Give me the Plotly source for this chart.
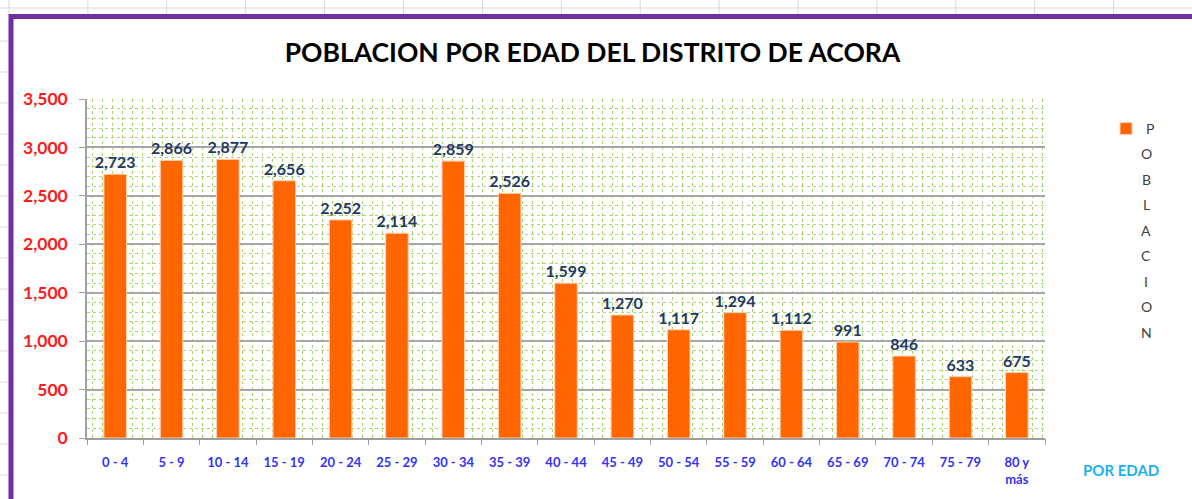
import plotly.graph_objects as go

categories = ["0 - 4", "5 - 9", "10 - 14", "15 - 19", "20 - 24", "25 - 29", "30 - 34",
              "35 - 39", "40 - 44", "45 - 49", "50 - 54", "55 - 59", "60 - 64",
              "65 - 69", "70 - 74", "75 - 79", "80 y<br>más"]
poblacion = [2723, 2866, 2877, 2656, 2252, 2114, 2859, 2526, 1599, 1270, 1117,
             1294, 1112, 991, 846, 633, 675]
y_ticks = [0, 500, 1000, 1500, 2000, 2500, 3000, 3500]
title_text = "POBLACION POR EDAD DEL DISTRITO DE ACORA"
series_name = "POBLACION"
x_title = "POR EDAD"

FONT = "Lato"
W, H = 1192, 499
L, R, T, B = 87, 1045, 99, 438


def px(xp):
    return (xp - L) / (R - L)


def py(yp):
    return (B - yp) / (B - T)


n = len(categories)
xs = list(range(n))

fig = go.Figure()
fig.add_trace(go.Bar(
    x=xs, y=poblacion, width=0.4,
    marker=dict(color="#ff6600", line=dict(color="#ffd0b0", width=1)),
    text=[f"{v:,}" for v in poblacion], textposition="outside",
    constraintext="none",
    textfont=dict(family=FONT, size=16, color="#1f3864", weight="bold"),
    cliponaxis=False, name="P", showlegend=True,
))
fig.add_trace(go.Scatter(x=[-0.5, n - 0.5], y=[0, 0], xaxis="x2", mode="markers",
                         marker=dict(opacity=0), showlegend=False, hoverinfo="skip"))

fig.update_layout(
    width=W, height=H,
    margin=dict(l=L, r=W - R, t=T, b=H - B, pad=0),
    paper_bgcolor="white", plot_bgcolor="white",
    title=dict(text=f"<b>{title_text}</b>", x=(285 + 900) / 2 / W, xanchor="center",
               y=1 - 53 / H, yanchor="middle",
               font=dict(family=FONT, size=26.5, color="black")),
    xaxis=dict(
        range=[-0.5, n - 0.5], tickmode="array", tickvals=xs, ticktext=categories,
        ticks="", showgrid=False, zeroline=False,
        showline=True, linecolor="#a0a0a0", linewidth=1.5,
        tickfont=dict(family=FONT, size=13, color="#3333f5", weight="bold"),
        ticklabelstandoff=12,
        minor=dict(tick0=-0.5 + 5 / 56.35, dtick=10 / 56.35, showgrid=True,
                   gridcolor="#a9d86e", griddash="dot", gridwidth=1, ticks=""),
    ),
    xaxis2=dict(overlaying="x", range=[-0.5, n - 0.5], tickmode="array",
                tickvals=[i - 0.5 for i in range(n + 1)], ticks="outside", ticklen=6,
                tickcolor="#a0a0a0", showticklabels=False, showgrid=False,
                zeroline=False, anchor="y", side="bottom"),
    yaxis=dict(
        range=[0, 3500], tickmode="array", tickvals=y_ticks,
        ticktext=[f"{v:,}" for v in y_ticks],
        showgrid=True, gridcolor="#a6a6a6", gridwidth=2,
        zeroline=False, showline=True, linecolor="#a0a0a0", linewidth=1.5,
        ticks="outside", ticklen=6, tickcolor="#a0a0a0",
        tickfont=dict(family=FONT, size=17.5, color="#ff1a1a", weight="bold"),
        ticklabelstandoff=8,
        minor=dict(dtick=100, showgrid=True, gridcolor="#a9d86e", griddash="dot",
                   gridwidth=1, ticks=""),
    ),
    legend=dict(x=px(1106), y=py(113), xanchor="left", yanchor="top",
                font=dict(family=FONT, size=14, color="#404040"),
                bgcolor="rgba(0,0,0,0)"),
    showlegend=True,
)

for i, ch in enumerate(series_name[1:], start=1):
    fig.add_annotation(x=px(1146), y=py(128 + i * 25.5), xref="paper", yref="paper",
                       text=ch, showarrow=False, xanchor="center", yanchor="middle",
                       font=dict(family=FONT, size=14, color="#404040"))

fig.add_annotation(x=px(1121), y=py(470), xref="paper", yref="paper",
                   text=f"<b>{x_title}</b>", showarrow=False, xanchor="center",
                   yanchor="middle", font=dict(family=FONT, size=15, color="#1ab0f0"))

shapes = []
shapes.append(dict(type="line", xref="paper", yref="paper", x0=px(0), x1=px(W),
                   y0=py(8), y1=py(8), line=dict(color="#d9d9d9", width=1), layer="below"))
for k in range(16):
    xv = 9 + 78.9 * k
    if xv > W:
        break
    shapes.append(dict(type="line", xref="paper", yref="paper", x0=px(xv), x1=px(xv),
                       y0=py(0), y1=py(15), line=dict(color="#d9d9d9", width=1)))
for k in range(16):
    yv = 41 + 31 * k
    if yv > H:
        break
    shapes.append(dict(type="line", xref="paper", yref="paper", x0=px(0), x1=px(8),
                       y0=py(yv), y1=py(yv), line=dict(color="#d9d9d9", width=1)))
shapes.append(dict(type="line", xref="paper", yref="paper", x0=px(9), x1=px(W),
                   y0=py(16.5), y1=py(16.5), line=dict(color="#7030a0", width=5)))
shapes.append(dict(type="line", xref="paper", yref="paper", x0=px(11), x1=px(11),
                   y0=py(14), y1=py(H), line=dict(color="#7030a0", width=5)))
fig.update_layout(shapes=shapes)

fig.write_html("out.html")
